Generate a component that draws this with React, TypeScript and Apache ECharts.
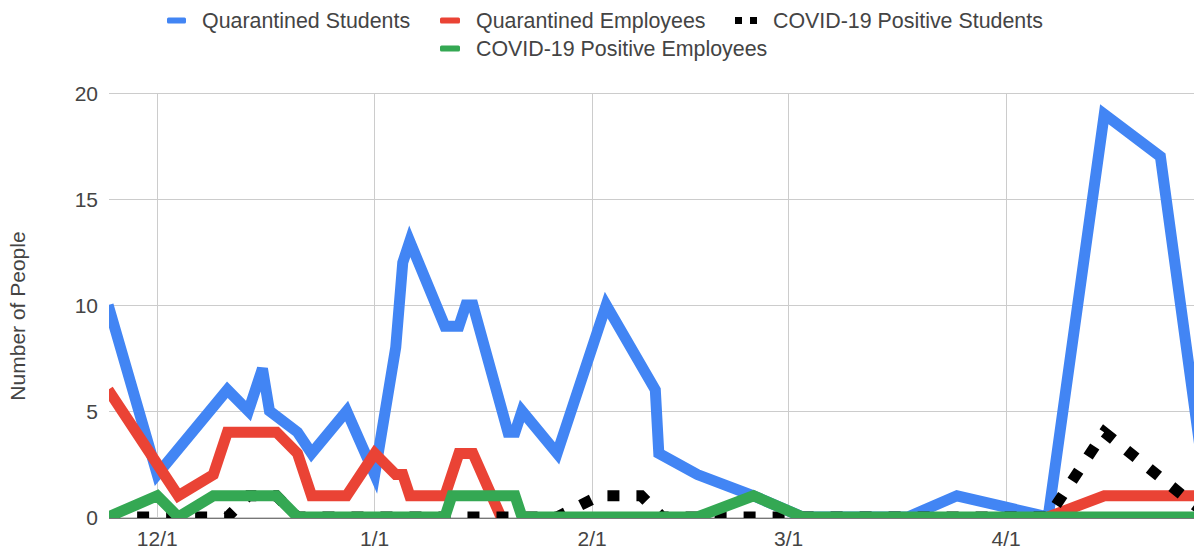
import React, { useEffect, useRef } from 'react';
import * as echarts from 'echarts';

// ---------- data ----------
const seriesNames = [
  'Quarantined Students',
  'Quarantined Employees',
  'COVID-19 Positive Students',
  'COVID-19 Positive Employees',
];

const monthTicks = ['2020-12-01', '2021-01-01', '2021-02-01', '2021-03-01', '2021-04-01'];

const qsDates = [
  '2020-11-24', '2020-12-01', '2020-12-11', '2020-12-14', '2020-12-16', '2020-12-17',
  '2020-12-21', '2020-12-23', '2020-12-28', '2021-01-01', '2021-01-04', '2021-01-05',
  '2021-01-06', '2021-01-11', '2021-01-13', '2021-01-14', '2021-01-15', '2021-01-20',
  '2021-01-21', '2021-01-22', '2021-01-27', '2021-02-03', '2021-02-10', '2021-02-10 12:00',
  '2021-02-16', '2021-02-24', '2021-03-03', '2021-03-18', '2021-03-25', '2021-04-07',
  '2021-04-15', '2021-04-23', '2021-04-30',
];
const qsValues = [
  10, 2, 6, 5, 7, 5,
  4, 3, 5, 2, 8, 12,
  13, 9, 9, 10, 10, 4,
  4, 5, 3, 10, 6, 3,
  2, 1, 0, 0, 1, 0,
  19, 17, 0,
];

// no entries for employees' quarantine between late January and April (gap)
const qeDates = [
  '2020-11-24', '2020-12-02', '2020-12-04', '2020-12-09', '2020-12-11', '2020-12-18',
  '2020-12-21', '2020-12-23', '2020-12-28', '2021-01-01', '2021-01-04', '2021-01-05',
  '2021-01-06', '2021-01-11', '2021-01-13', '2021-01-15', '2021-01-19', '2021-02-20',
  '2021-04-07', '2021-04-15', '2021-04-30',
];
const qeValues: (number | null)[] = [
  6, 2, 1, 2, 4, 4,
  3, 1, 1, 3, 2, 2,
  1, 1, 3, 3, 0, null,
  0, 1, 1,
];

const psDates = [
  '2020-11-24', '2020-12-11', '2020-12-14', '2020-12-18', '2020-12-21', '2021-01-27',
  '2021-02-02', '2021-02-08', '2021-02-11', '2021-04-07', '2021-04-15', '2021-04-30',
];
const psValues = [0, 0, 1, 1, 0, 0, 1, 1, 0, 0, 4, 0];

const peDates = [
  '2020-11-24', '2020-12-01', '2020-12-04', '2020-12-09', '2020-12-18', '2020-12-21',
  '2021-01-11', '2021-01-12', '2021-01-21', '2021-01-22', '2021-02-16', '2021-02-24',
  '2021-03-03', '2021-04-30',
];
const peValues = [0, 1, 0, 1, 1, 0, 0, 1, 1, 0, 0, 1, 0, 0];

const axisMin = '2020-11-24 03:00';
const axisMax = '2021-04-27 19:00';

// ---------- helpers ----------
function toTime(s: string): number {
  const [d, t] = s.split(' ');
  const [y, m, day] = d.split('-').map(Number);
  let h = 0;
  let mi = 0;
  if (t) {
    const parts = t.split(':').map(Number);
    h = parts[0];
    mi = parts[1];
  }
  return new Date(y, m - 1, day, h, mi).getTime();
}

function pairs(dates: string[], values: (number | null)[]) {
  return dates.map((d, i) => [toTime(d), values[i]]);
}

const W = 1194;
const H = 550;
const GRID_LEFT = 109;
const GRID_TOP = 93;
const GRID_BOTTOM = 33;

const COLORS = ['#4285F4', '#EA4335', '#000000', '#34A853'];
const FONT = "'Liberation Sans', Arial, sans-serif";
const TEXT_COLOR = '#444444';

export default function App() {
  const ref = useRef<HTMLDivElement>(null);

  useEffect(() => {
    if (!ref.current) return;
    const chart = echarts.init(ref.current, null, { renderer: 'svg' });

    const lineSeries = (idx: number, data: any[], extra: any = {}) => ({
      type: 'line',
      name: seriesNames[idx],
      data,
      showSymbol: false,
      symbol: 'none',
      clip: true,
      silent: true,
      connectNulls: false,
      itemStyle: { color: COLORS[idx] },
      lineStyle: {
        color: COLORS[idx],
        width: 11,
        cap: 'butt',
        join: 'miter',
        miterLimit: 10,
        ...extra,
      },
      emphasis: { disabled: true },
    });

    const legendText = (pad: number) => ({
      fontSize: 21.4,
      color: TEXT_COLOR,
      fontFamily: FONT,
      padding: [0, 0, 0, pad],
    });

    const bottomY = H - GRID_BOTTOM;
    const ticks = monthTicks.map(toTime);

    chart.setOption({
      animation: false,
      textStyle: { fontFamily: FONT },
      grid: { left: GRID_LEFT, right: 0, top: GRID_TOP, bottom: GRID_BOTTOM, containLabel: false },
      legend: [
        {
          left: 167, top: 10, padding: 0, itemWidth: 19, itemHeight: 6, selectedMode: false,
          data: [{ name: seriesNames[0], icon: 'roundRect', itemStyle: { color: COLORS[0], borderWidth: 0 } }],
          textStyle: legendText(11),
        },
        {
          left: 440, top: 10, padding: 0, itemWidth: 20, itemHeight: 6, selectedMode: false,
          data: [{ name: seriesNames[1], icon: 'roundRect', itemStyle: { color: COLORS[1], borderWidth: 0 } }],
          textStyle: legendText(11),
        },
        {
          left: 735, top: 10, padding: 0, itemWidth: 22, itemHeight: 7, selectedMode: false,
          data: [{
            name: seriesNames[2],
            icon: 'path://M0,0H7V7H0Z M15,0H22V7H15Z',
            itemStyle: { color: COLORS[2], borderWidth: 0 },
          }],
          textStyle: legendText(11),
        },
        {
          left: 440, top: 38, padding: 0, itemWidth: 20, itemHeight: 6, selectedMode: false,
          data: [{ name: seriesNames[3], icon: 'roundRect', itemStyle: { color: COLORS[3], borderWidth: 0 } }],
          textStyle: legendText(11),
        },
      ],
      xAxis: {
        type: 'value',
        min: toTime(axisMin),
        max: toTime(axisMax),
        axisLine: { show: false },
        axisTick: { show: false, customValues: ticks },
        axisLabel: {
          customValues: ticks,
          fontSize: 21,
          color: TEXT_COLOR,
          fontFamily: FONT,
          margin: 11,
          hideOverlap: false,
          showMinLabel: true,
          showMaxLabel: true,
          formatter: (v: number) => {
            const d = new Date(v);
            return `${d.getMonth() + 1}/${d.getDate()}`;
          },
        },
        splitLine: { show: true, lineStyle: { color: '#cccccc', width: 1 } },
        minorSplitLine: { show: false },
      },
      yAxis: {
        type: 'value',
        min: 0,
        max: 20,
        interval: 5,
        axisLine: { show: false },
        axisTick: { show: false },
        axisLabel: { fontSize: 21, color: TEXT_COLOR, fontFamily: FONT, margin: 11 },
        splitLine: { show: true, lineStyle: { color: '#cccccc', width: 1 } },
      },
      graphic: [
        {
          type: 'rect',
          z: 100,
          silent: true,
          shape: { x: GRID_LEFT - 9, y: GRID_TOP - 9, width: 9, height: bottomY - GRID_TOP + 18 },
          style: { fill: '#ffffff' },
        },
        {
          type: 'rect',
          z: 100,
          silent: true,
          shape: { x: GRID_LEFT - 9, y: bottomY + 1, width: W, height: 7 },
          style: { fill: '#ffffff' },
        },
        {
          type: 'line',
          z: 101,
          silent: true,
          shape: { x1: GRID_LEFT, y1: bottomY + 1.5, x2: W, y2: bottomY + 1.5 },
          style: { stroke: '#777777', lineWidth: 1 },
        },
        {
          type: 'text',
          x: 17,
          y: 316,
          rotation: Math.PI / 2,
          silent: true,
          style: {
            text: 'Number of People',
            fontSize: 21,
            fill: TEXT_COLOR,
            fontFamily: FONT,
            align: 'center',
            verticalAlign: 'middle',
          },
        },
      ],
      series: [
        lineSeries(0, pairs(qsDates, qsValues)),
        lineSeries(1, pairs(qeDates, qeValues)),
        lineSeries(2, pairs(psDates, psValues), { type: [12, 17] }),
        lineSeries(3, pairs(peDates, peValues)),
      ],
    });

    return () => {
      chart.dispose();
    };
  }, []);

  return (
    <div
      ref={ref}
      style={{ position: 'fixed', left: 0, top: 0, width: W, height: H, background: '#ffffff' }}
    />
  );
}
